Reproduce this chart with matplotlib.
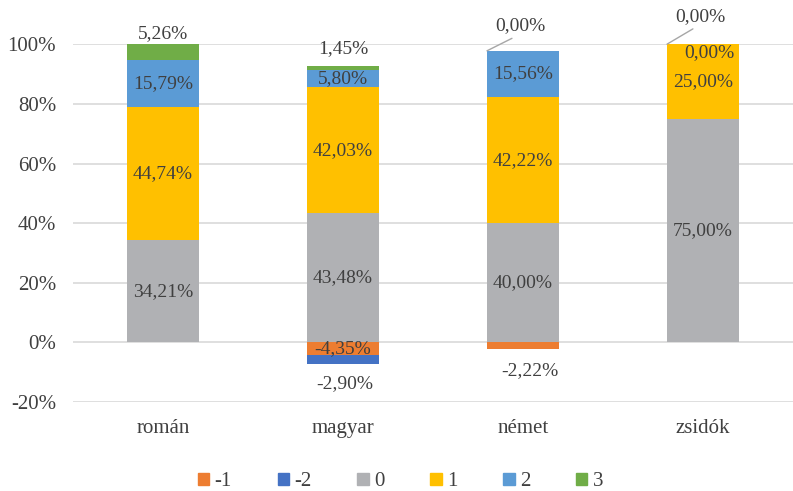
import numpy as np
import matplotlib.pyplot as plt
from matplotlib.patches import Patch

plt.rcParams['font.family'] = ['Liberation Serif', 'DejaVu Serif']

categories = ['román', 'magyar', 'német', 'zsidók']
series = ['-1', '-2', '0', '1', '2', '3']
values = {
    '-1': [0.0, -4.35, -2.22, 0.0],
    '-2': [0.0, -2.90, 0.0, 0.0],
    '0': [34.21, 43.48, 40.00, 75.00],
    '1': [44.74, 42.03, 42.22, 25.00],
    '2': [15.79, 5.80, 15.56, 0.0],
    '3': [5.26, 1.45, 0.0, 0.0],
}
# which zero-valued segments still carry a label in the original
shown_zero = {('3', 2), ('2', 3), ('3', 3)}
colors = {'-1': '#ED7D31', '-2': '#4472C4', '0': '#B0B1B4',
          '1': '#FFC000', '2': '#5B9BD5', '3': '#70AD47'}

# label placement tweaks: (series, cat) -> (mode, dx px, dy px)
special = {
    ('3', 0): ('top', 0, 11),
    ('3', 1): ('top', 0, 17),
    ('-2', 1): ('bottom', 2, -19),
    ('-1', 2): ('bottom', 7, -21),
    ('3', 2): ('leader', 33, 25),
    ('3', 3): ('leader', 33, 28),
    ('2', 3): ('top', 6, -8),
}

fig = plt.figure(figsize=(7.93, 4.91), dpi=100)
ax = fig.add_axes([0.092, 0.181, 0.908, 0.729])

x = np.arange(len(categories))
width = 0.4
pos_base = np.zeros(len(categories))
neg_base = np.zeros(len(categories))
label_col = '#404040'
lab_fs = 14

for s in series:
    vals = np.array(values[s])
    bottoms = np.where(vals >= 0, pos_base, neg_base)
    ax.bar(x, vals, width, bottom=bottoms, color=colors[s], zorder=2)
    for i, v in enumerate(vals):
        if v == 0 and (s, i) not in shown_zero:
            continue
        txt = f'{v:.2f}%'.replace('.', ',')
        lo, hi = bottoms[i], bottoms[i] + v
        mode, dx, dy = special.get((s, i), ('center', 0, 0))
        if mode == 'center':
            ax.text(x[i], (lo + hi) / 2, txt, ha='center', va='center',
                    fontsize=lab_fs, color=label_col, zorder=3)
        elif mode == 'top':
            ax.annotate(txt, (x[i], max(lo, hi)), xytext=(dx, dy),
                        textcoords='offset pixels', ha='center', va='center',
                        fontsize=lab_fs, color=label_col, annotation_clip=False)
        elif mode == 'bottom':
            ax.annotate(txt, (x[i], min(lo, hi)), xytext=(dx, dy),
                        textcoords='offset pixels', ha='center', va='center',
                        fontsize=lab_fs, color=label_col, annotation_clip=False)
        else:
            ax.annotate(txt, (x[i] - width / 2, max(lo, hi)), xytext=(dx, dy),
                        textcoords='offset pixels', ha='center', va='center',
                        fontsize=lab_fs, color=label_col, annotation_clip=False,
                        arrowprops=dict(arrowstyle='-', color='#A6A6A6', lw=1,
                                        shrinkA=2, shrinkB=0, relpos=(0.5, 0)))
    pos_base = pos_base + np.where(vals >= 0, vals, 0)
    neg_base = neg_base + np.where(vals < 0, vals, 0)

ax.set_xlim(-0.5, 3.5)
ax.set_ylim(-20, 100)
ax.set_yticks(np.arange(-20, 101, 20))
ax.set_yticklabels([f'{t}%' for t in range(-20, 101, 20)])
ax.set_xticks(x)
ax.set_xticklabels(categories)
ax.tick_params(axis='both', length=0, labelsize=15, colors='#404040')
ax.tick_params(axis='x', pad=12)
ax.tick_params(axis='y', pad=12)
ax.grid(axis='y', color='#D9D9D9', lw=1.2, zorder=0)
ax.set_axisbelow(True)
for sp in ax.spines.values():
    sp.set_visible(False)

handles = [Patch(color=colors[s], label=s) for s in series]
fig.legend(handles=handles, loc='center', bbox_to_anchor=(0.505, 9 / 491),
           ncol=6, frameon=False, fontsize=15, handlelength=0.55,
           handleheight=0.55, handletextpad=0.25, columnspacing=2.2,
           labelcolor='#404040')

fig.savefig('out.png', dpi=100)
